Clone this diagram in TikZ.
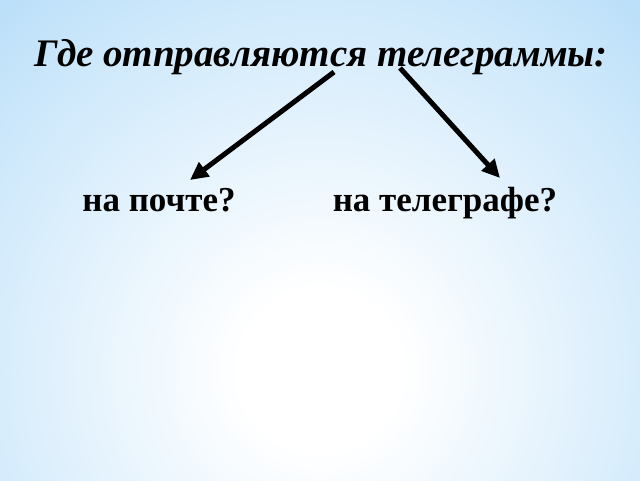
\documentclass[tikz,border=0pt]{standalone}
\usepackage{fontspec}
\setmainfont{Liberation Serif}
\usetikzlibrary{arrows.meta}
\definecolor{bgblue}{RGB}{160,210,246}
\definecolor{bgmid}{RGB}{205,232,251}
\pgfdeclareradialshading{bgshade}{\pgfpoint{0bp}{0bp}}{color(0bp)=(white); color(5bp)=(white); color(24bp)=(bgmid); color(40bp)=(bgblue); color(50bp)=(bgblue)}
\tikzset{
  titletext/.style={font=\fontsize{39}{44}\selectfont\bfseries\itshape, inner sep=0pt, anchor=base},
  labeltext/.style={font=\fontsize{35}{40}\selectfont\bfseries, inner sep=0pt, anchor=base},
  bigarrow/.style={line width=5pt, -{Triangle[length=18pt,width=17pt]}}
}
\begin{document}
\begin{tikzpicture}[x=1pt,y=-1pt]
\useasboundingbox (0,0) rectangle (640,480);
\begin{scope}
\clip (0,0) rectangle (640,480);
\shade[shading=bgshade] (-80,-30) rectangle (720,770);
\end{scope}
\node[titletext] (t) at (321,66) {Где отправляются телеграммы:};
\node[labeltext] (a) at (159,211) {на почте?};
\node[labeltext] (b) at (445,211) {на телеграфе?};
\coordinate (s1) at (334,72);
\coordinate (e1) at (190,180);
\coordinate (s2) at (400,68);
\coordinate (e2) at (500,178);
\draw[bigarrow] (s1) -- (e1);
\draw[bigarrow] (s2) -- (e2);
\end{tikzpicture}
\end{document}
